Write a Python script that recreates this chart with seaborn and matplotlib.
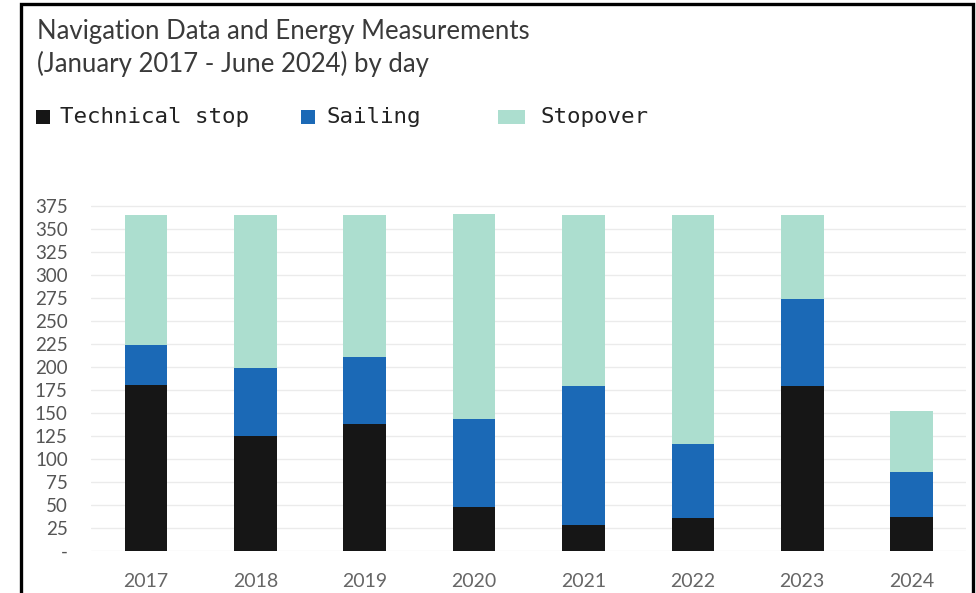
import matplotlib
matplotlib.use("Agg")
import matplotlib.pyplot as plt
from matplotlib.patches import Rectangle
from matplotlib.ticker import FuncFormatter
import numpy as np
import pandas as pd
import seaborn as sns

# Days per year spent in each state
years = ["2017", "2018", "2019", "2020", "2021", "2022", "2023", "2024"]
technical_stop = [180, 125, 138, 48, 28, 36, 179, 37]
sailing = [44, 74, 73, 95, 151, 80, 94, 49]
stopover = [141, 166, 154, 223, 186, 249, 92, 66]

series_names = ["Technical stop", "Sailing", "Stopover"]
colors = ["#161616", "#1b69b6", "#acdecf"]

df = pd.DataFrame({
    "year": years,
    "Technical stop": technical_stop,
    "Sailing": sailing,
    "Stopover": stopover,
})
# cumulative heights for stacking (draw tallest first)
df["cum_tech"] = df["Technical stop"]
df["cum_sail"] = df["cum_tech"] + df["Sailing"]
df["cum_stop"] = df["cum_sail"] + df["Stopover"]

sns.set_theme(style="white")
plt.rcParams["font.family"] = ["Lato", "DejaVu Sans"]

W, H = 976, 593
fig = plt.figure(figsize=(W / 100, H / 100), dpi=100)
fig.patch.set_facecolor("white")

ax = fig.add_axes([91.3 / W, 1 - 551 / H, 875 / W, (551 - 200) / H])

for col, c in zip(["cum_stop", "cum_sail", "cum_tech"], colors[::-1]):
    sns.barplot(data=df, x="year", y=col, color=c, width=0.39,
                saturation=1, ax=ax, zorder=3, linewidth=0)

ax.set_ylim(0, 381)
ax.set_xlim(-0.5, 7.5)
ax.set_yticks(np.arange(0, 376, 25))
ax.yaxis.set_major_formatter(FuncFormatter(lambda v, p: "-" if v == 0 else f"{int(v)}"))
ax.grid(axis="y", color="#ebebeb", linewidth=1, zorder=0)
ax.grid(axis="x", visible=False)
for s in ax.spines.values():
    s.set_visible(False)
ax.set_xlabel("")
ax.set_ylabel("")
ax.tick_params(axis="y", length=0, pad=17, labelsize=13.5, labelcolor="#555555")
ax.tick_params(axis="x", length=0, pad=16, labelsize=14, labelcolor="#666666")

# Title
fig.text(37 / W, 1 - 32 / H, "Navigation Data and Energy Measurements",
         fontsize=18.5, color="#3a3a3a", va="center", ha="left")
fig.text(37 / W, 1 - 64 / H, "(January 2017 - June 2024) by day",
         fontsize=18.5, color="#3a3a3a", va="center", ha="left")

# Legend row
legend_y = 117
swatches = [(36, 14), (301, 14), (498, 27)]
text_x = [60, 326, 540]
for (sx, sw), tx, name, c in zip(swatches, text_x, series_names, colors):
    fig.patches.append(Rectangle((sx / W, 1 - (legend_y + 7) / H), sw / W, 14 / H,
                                 transform=fig.transFigure, facecolor=c,
                                 edgecolor="none"))
    fig.text(tx / W, 1 - legend_y / H, name, fontsize=16.2, color="#222222",
             va="center", ha="left", family="DejaVu Sans Mono")

# Frame around the figure
fig.patches.append(Rectangle((20.5 / W, -0.05), (972.5 - 20.5) / W, 1.05 - 4 / H,
                             transform=fig.transFigure, facecolor="none",
                             edgecolor="black", linewidth=2.4))

fig.savefig("out.png", dpi=100)
